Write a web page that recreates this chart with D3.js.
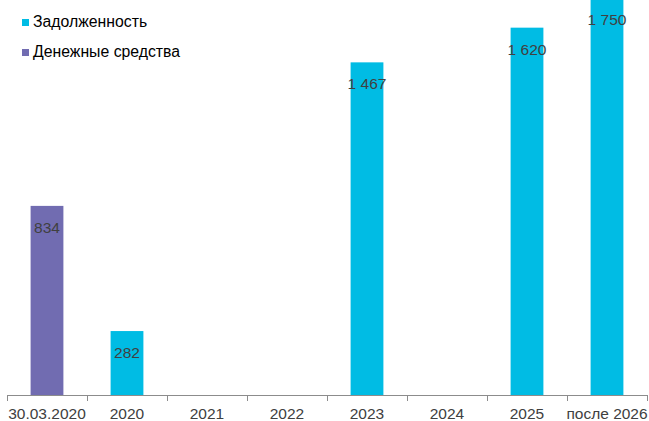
<!DOCTYPE html>
<html>
<head>
<meta charset="utf-8">
<script src="https://cdn.jsdelivr.net/npm/d3@7"></script>
<style>
  body { margin: 0; background: #fff; }
  text { font-family: "Liberation Sans", Arial, sans-serif; }
</style>
</head>
<body>
<div id="chart"></div>
<script>
const width = 649,
  height = 421,
  margin = { top: 0, bottom: 26, left: 7, right: 2 };

// data
const categories = ["30.03.2020", "2020", "2021", "2022", "2023", "2024", "2025", "после 2026"];
const debt = [null, 282, null, null, 1467, null, 1620, 1750];
const cash = [834, null, null, null, null, null, null, null];
const seriesNames = ["Задолженность", "Денежные средства"];
const colors = ["#00bce4", "#716cb1"];

const svg = d3.select("#chart").append("svg")
  .attr("width", width)
  .attr("height", height);

const xScale = d3.scaleBand()
  .domain(categories)
  .range([margin.left, width - margin.right])
  .paddingInner(0.59)
  .paddingOuter(0.295);

// wider band for axis ticks
const xAxisScale = d3.scaleBand()
  .domain(categories)
  .range([margin.left, width - margin.right]);

const yScale = d3.scaleLinear()
  .domain([0, 1742])
  .range([height - margin.bottom, 0]);

const bars = [];
categories.forEach((c, i) => {
  if (cash[i] != null) bars.push({ cat: c, value: cash[i], color: colors[1] });
  if (debt[i] != null) bars.push({ cat: c, value: debt[i], color: colors[0] });
});

svg.selectAll(".bar")
  .data(bars)
  .join("rect")
  .attr("class", "bar")
  .attr("x", d => xScale(d.cat))
  .attr("width", xScale.bandwidth())
  .attr("y", d => yScale(d.value))
  .attr("height", d => yScale(0) - yScale(d.value))
  .attr("fill", d => d.color);

const fmt = v => d3.format(",")(v).replace(/,/g, " ");

svg.selectAll(".label")
  .data(bars)
  .join("text")
  .attr("class", "label")
  .attr("x", d => xScale(d.cat) + xScale.bandwidth() / 2)
  .attr("y", d => yScale(d.value) + 27)
  .attr("text-anchor", "middle")
  .attr("font-size", 15.5)
  .attr("fill", "#404040")
  .text(d => fmt(d.value));

// x axis
const axisY = yScale(0);
const axis = svg.append("g");
axis.append("line")
  .attr("x1", margin.left).attr("x2", width - margin.right)
  .attr("y1", axisY + 0.5).attr("y2", axisY + 0.5)
  .attr("stroke", "#8c8c8c");

const tickPos = categories.map(c => xAxisScale(c)).concat([width - margin.right]);
axis.selectAll(".tick")
  .data(tickPos)
  .join("line")
  .attr("x1", d => Math.round(d) + 0.5).attr("x2", d => Math.round(d) + 0.5)
  .attr("y1", axisY).attr("y2", axisY + 6)
  .attr("stroke", "#8c8c8c");

axis.selectAll(".tick-label")
  .data(categories)
  .join("text")
  .attr("x", d => xAxisScale(d) + xAxisScale.bandwidth() / 2)
  .attr("y", axisY + 24)
  .attr("text-anchor", "middle")
  .attr("font-size", 15.5)
  .attr("fill", "#404040")
  .text(d => d);

// legend
const legend = svg.append("g");
seriesNames.forEach((name, i) => {
  const y0 = 19 + i * 30;
  legend.append("rect")
    .attr("x", 22).attr("y", y0)
    .attr("width", 7).attr("height", 7)
    .attr("fill", colors[i]);
  legend.append("text")
    .attr("x", 33).attr("y", y0 + 8)
    .attr("font-size", 15.8)
    .attr("fill", "#000")
    .text(name);
});
</script>
</body>
</html>
